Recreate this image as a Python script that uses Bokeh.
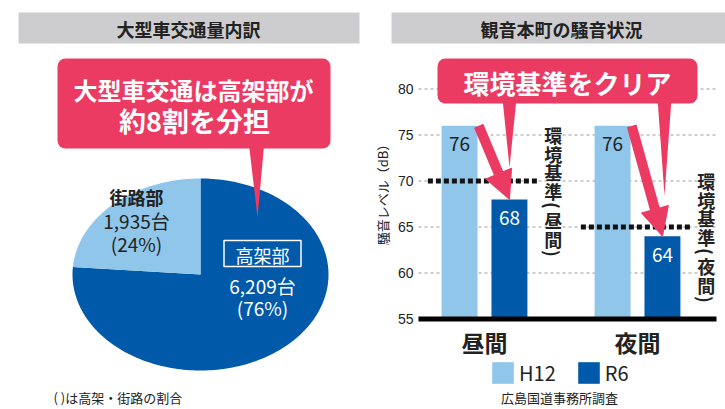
import numpy as np
from bokeh.plotting import figure
from bokeh.models import (Range1d, ColumnDataSource, BoxAnnotation, Arrow, NormalHead,
                          Legend, LegendItem)
from bokeh.core.properties import value
from bokeh.embed import file_html
from bokeh.resources import INLINE

# ---------------- data ----------------
pie_title = "大型車交通量内訳"
pie_labels = ["高架部", "街路部"]
pie_counts = [6209, 1935]
pie_pct = [76, 24]

bar_title = "観音本町の騒音状況"
periods = ["昼間", "夜間"]
series_names = ["H12", "R6"]
h12_db = [76, 76]
r6_db = [68, 64]
standard_db = [70, 65]
standard_labels = ["環境基準（昼間）", "環境基準（夜間）"]
y_ticks = [55, 60, 65, 70, 75, 80]
y_label = "騒音レベル（dB）"

callout_left = ["大型車交通は高架部が", "約8割を分担"]
callout_right = "環境基準をクリア"
note_left = "( )は高架・街路の割合"
note_right = "広島国道事務所調査"

# ---------------- style ----------------
PINK = "#EB3B63"
LIGHT = "#8FC6EA"
DARK = "#0059A9"
GRAY = "#CDCDD0"
INK = "#222222"
JPF = "Noto Sans CJK JP"
JP = value(JPF)
LAT = value("Liberation Sans")

W, H = 725, 409
p = figure(width=W, height=H, x_range=Range1d(0, W), y_range=Range1d(H, 0),
           output_backend="svg", toolbar_location=None,
           x_axis_type=None, y_axis_type=None, min_border=0)
p.outline_line_color = None
p.background_fill_color = "white"
p.border_fill_color = "white"

# bar-chart scales (extra ranges mapped over the frame)
PX_PER_DB = 9.2
DB_BASE_PX = 318.5
PX_PER_CAT = 153.0
CAT0_PX = 484.0
p.extra_y_ranges = {"db": Range1d(55 - (H - DB_BASE_PX) / PX_PER_DB, 55 + DB_BASE_PX / PX_PER_DB)}
p.extra_x_ranges = {"bx": Range1d(1 - CAT0_PX / PX_PER_CAT, 1 + (W - CAT0_PX) / PX_PER_CAT)}
cat_pos = [1, 2]
XL = 1 + (418 - CAT0_PX) / PX_PER_CAT
XR = 1 + (716 - CAT0_PX) / PX_PER_CAT
OFF = 0.163
BW = 0.235

# ---------------- title bars ----------------
p.quad(left=[18, 391], right=[359, 725], top=[12, 12], bottom=[43, 43],
       fill_color=GRAY, line_color=None)
p.text(x=[188, 561], y=[28, 28], text=[pie_title, bar_title], text_font=JP,
       text_font_size="18px", text_font_style="bold", text_color=INK,
       text_align="center", text_baseline="middle")

# ---------------- pie (elliptical) ----------------
cx, cy, rx, ry = 200, 274, 128, 96
fr = np.array(pie_counts, dtype=float) / sum(pie_counts)
a0 = np.pi / 2
a1 = a0 + fr[1] * 2 * np.pi
a2 = a0 + 2 * np.pi
def wedge(t0, t1):
    t = np.linspace(t0, t1, 200)
    xs = np.concatenate([[cx], cx + rx * np.cos(t), [cx]])
    ys = np.concatenate([[cy], cy - ry * np.sin(t), [cy]])
    return list(xs), list(ys)
wx1, wy1 = wedge(a0, a1)   # 街路部
wx2, wy2 = wedge(a1, a2)   # 高架部
p.patches(xs=[wx2, wx1], ys=[wy2, wy1], fill_color=[DARK, LIGHT], line_color=None)

# 街路部 label
p.text(x=[136], y=[196], text=[pie_labels[1]], text_font=JP, text_font_size="18px",
       text_font_style="bold", text_color=INK, text_align="center", text_baseline="middle")
p.text(x=[136, 136], y=[220, 243],
       text=[f"{pie_counts[1]:,}台", f"({pie_pct[1]}%)"], text_font=JP,
       text_font_size="19px", text_color=INK, text_align="center", text_baseline="middle")
# 高架部 label
p.rect(x=[262], y=[253], width=77, height=26, fill_color=None, line_color="white", line_width=1.5)
p.text(x=[262], y=[254], text=[pie_labels[0]], text_font=JP, text_font_size="18px",
       text_color="white", text_align="center", text_baseline="middle")
p.text(x=[262, 262], y=[285, 307],
       text=[f"{pie_counts[0]:,}台", f"({pie_pct[0]}%)"], text_font=JP,
       text_font_size="19px", text_color="white", text_align="center", text_baseline="middle")

# ---------------- left callout ----------------
p.add_layout(BoxAnnotation(left=57, right=330, top=58, bottom=148, fill_color=PINK,
                           fill_alpha=1, line_color=None, border_radius=8))
p.patch(x=[248, 264, 257], y=[140, 140, 217], fill_color=PINK, line_color=None)
p.text(x=[193], y=[89], text=[callout_left[0]], text_font=JP, text_font_size="24px",
       text_font_style="bold", text_color="white", text_align="center",
       text_baseline="middle", level="overlay")
p.text(x=[194], y=[120], text=[callout_left[1]], text_font=JP, text_font_size="27px",
       text_font_style="bold", text_color="white", text_align="center",
       text_baseline="middle", level="overlay")

# ---------------- bar chart ----------------
p.segment(x0=[XL] * (len(y_ticks) - 1), x1=[XR] * (len(y_ticks) - 1),
          y0=y_ticks[1:], y1=y_ticks[1:], line_color="#9a9a9a", line_dash="3 3",
          line_width=1, x_range_name="bx", y_range_name="db")
p.text(x=[XL] * len(y_ticks), y=y_ticks, text=[str(t) for t in y_ticks], x_offset=-5,
       text_font=LAT, text_font_size="14px", text_color=INK, text_align="right",
       text_baseline="middle", x_range_name="bx", y_range_name="db")
p.text(x=[382], y=[191], text=[y_label], angle=np.pi / 2, text_font=JP,
       text_font_size="13px", text_color=INK, text_align="center", text_baseline="middle")

src = ColumnDataSource(dict(
    xh=[c - OFF for c in cat_pos], xr=[c + OFF for c in cat_pos],
    h12=h12_db, r6=r6_db,
    h12_txt=[str(v) for v in h12_db], r6_txt=[str(v) for v in r6_db],
    h12_ty=[v - 2.0 for v in h12_db], r6_ty=[v - 2.0 for v in r6_db]))
r1 = p.vbar(x="xh", top="h12", bottom=55, width=BW, fill_color=LIGHT, line_color=None,
            source=src, x_range_name="bx", y_range_name="db")
r2 = p.vbar(x="xr", top="r6", bottom=55, width=BW, fill_color=DARK, line_color=None,
            source=src, x_range_name="bx", y_range_name="db")
p.text(x="xh", y="h12_ty", text="h12_txt", source=src, text_font=JP, text_font_size="19px",
       text_color=INK, text_align="center", text_baseline="middle",
       x_range_name="bx", y_range_name="db")
p.text(x="xr", y="r6_ty", text="r6_txt", source=src, text_font=JP, text_font_size="19px",
       text_color="white", text_align="center", text_baseline="middle",
       x_range_name="bx", y_range_name="db")

# baseline
p.segment(x0=[XL], x1=[XR], y0=[55], y1=[55], line_color="black", line_width=5,
          x_range_name="bx", y_range_name="db")

# standards
p.segment(x0=[c - 0.37 for c in cat_pos], x1=[c + 0.35 for c in cat_pos],
          y0=standard_db, y1=standard_db, line_color="#111111", line_width=5,
          line_dash="5 3", x_range_name="bx", y_range_name="db")

# vertical standard labels (tategaki: parentheses turned 90 degrees)
vx, vy, vt, va = [], [], [], []
for c, s, lab in zip(cat_pos, standard_db, standard_labels):
    cum = 0.0
    for ch in lab:
        if ch in "（）":
            ch, h, ang = ("(" if ch == "（" else ")"), 11.0, -np.pi / 2
        else:
            h, ang = 18.5, 0.0
        vx.append(c + 0.45)
        vy.append(s + 6.0 - (cum + h / 2) / PX_PER_DB)
        vt.append(ch)
        va.append(ang)
        cum += h
p.text(x=vx, y=vy, text=vt, angle=va, text_font=JP, text_font_size="18px",
       text_font_style="bold", text_color=INK, text_align="center", text_baseline="middle",
       x_range_name="bx", y_range_name="db")

# category labels
p.text(x=cat_pos, y=[341, 341], text=periods, text_font=JP, text_font_size="23px",
       text_font_style="bold", text_color=INK, text_align="center", text_baseline="middle",
       x_range_name="bx")

# right callout
p.add_layout(BoxAnnotation(left=437, right=697, top=58, bottom=103, fill_color=PINK,
                           fill_alpha=1, line_color=None, border_radius=8))
p.patches(xs=[[502, 516, 509], [657, 671, 664]], ys=[[98, 98, 167], [98, 98, 195]],
          fill_color=PINK, line_color=None, level="overlay")
p.text(x=[567], y=[82], text=[callout_right], text_font=JP, text_font_size="26px",
       text_font_style="bold", text_color="white", text_align="center",
       text_baseline="middle", level="overlay")

# arrows H12 -> R6
asrc = ColumnDataSource(dict(xs=[c - OFF + 0.125 for c in cat_pos], ys=h12_db,
                             xe=[c + OFF for c in cat_pos], ye=r6_db))
p.add_layout(Arrow(end=NormalHead(size=28, fill_color=PINK, line_color=PINK),
                   x_start="xs", y_start="ys", x_end="xe", y_end="ye", source=asrc,
                   line_color=PINK, line_width=10,
                   x_range_name="bx", y_range_name="db"))

# legend
legend = Legend(items=[LegendItem(label=series_names[0], renderers=[r1]),
                       LegendItem(label=series_names[1], renderers=[r2])],
                orientation="horizontal", location=(489, 22), glyph_width=27,
                glyph_height=27, label_standoff=3, spacing=19, padding=0, margin=0,
                border_line_alpha=0, background_fill_alpha=0,
                label_text_font=JPF, label_text_font_size="20px", label_text_color=INK)
p.add_layout(legend)

# notes
p.text(x=[53], y=[387], text=[note_left], text_font=JP, text_font_size="13px",
       text_color=INK, text_align="left", text_baseline="top")
p.text(x=[559], y=[387], text=[note_right], text_font=JP, text_font_size="13px",
       text_color=INK, text_align="center", text_baseline="top")

open("out.html", "w").write(file_html(p, INLINE))
